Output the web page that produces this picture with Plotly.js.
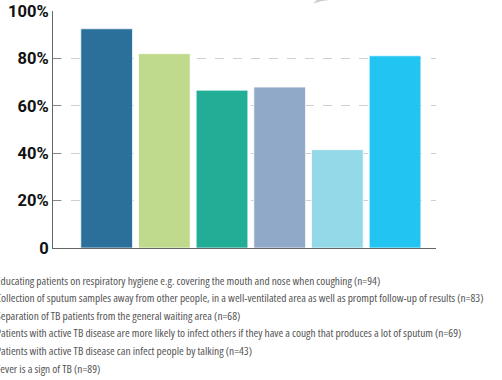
<!DOCTYPE html>
<html><head><meta charset="utf-8">
<script src="https://cdn.plot.ly/plotly-3.0.1.min.js"></script>
<style>html,body{margin:0;padding:0;background:#fff}#chart{width:502px;height:380px}
.annotation-text{font-stretch:condensed}</style>
</head><body><div id="chart"></div>
<script>
const categories = [
  "Educating patients on respiratory hygiene e.g. covering the mouth and nose when coughing (n=94)",
  "Collection of sputum samples away from other people, in a well-ventilated area as well as prompt follow-up of results (n=83)",
  "Separation of TB patients from the general waiting area (n=68)",
  "Patients with active TB disease are more likely to infect others if they have a cough that produces a lot of sputum (n=69)",
  "Patients with active TB disease can infect people by talking (n=43)",
  "Fever is a sign of TB (n=89)"
];
const values = [92.5, 82.0, 66.6, 67.9, 41.5, 81.1];
const colors = ["#2b6f9b", "#bfda8c", "#22ad97", "#91a9c8", "#93d9e8", "#22c5f2"];
const tickVals = [0, 20, 40, 60, 80, 100];
const tickText = ["0", "20%", "40%", "60%", "80%", "100%"];

const traces = categories.map((name, i) => ({
  type: "bar",
  x: [i],
  y: [values[i]],
  name: name,
  width: 0.896,
  marker: {color: colors[i], line: {color: "rgba(255,255,255,0.7)", width: 1}},
  hoverinfo: "y+name"
}));

// legend-like key below the chart (text starts slightly beyond the left edge, as in the reference)
const L = 53, W = 383, T = 11, H = 237;
const keyY0 = 280, keyStep = 17.6, keyX = -6;
const annotations = categories.map((name, i) => ({
  xref: "paper", yref: "paper",
  x: (keyX - L) / W, y: (T + H - (keyY0 + i * keyStep)) / H,
  xanchor: "left", yanchor: "middle", showarrow: false,
  text: name,
  font: {family: "Open Sans, sans-serif", size: 11.4, color: "#555"}
}));

const px = v => (v - L) / W, py = v => (T + H - v) / H;
const shapes = [{
  type: "path", xref: "paper", yref: "paper",
  path: `M ${px(313)} ${py(3.5)} L ${px(322)} ${py(1)} L ${px(336)} ${py(-1)} L ${px(318)} ${py(-1)} Z`,
  fillcolor: "rgba(140,140,140,0.45)", line: {width: 0}
}];

const layout = {
  width: 502, height: 380,
  margin: {l: L, r: 502 - L - W, t: T, b: 380 - T - H, autoexpand: false},
  paper_bgcolor: "#fff", plot_bgcolor: "#fff",
  barmode: "overlay",
  showlegend: false,
  annotations: annotations,
  shapes: shapes,
  xaxis: {
    range: [-0.93, 5.71], showticklabels: false, showgrid: false, zeroline: false,
    showline: true, linecolor: "#666", linewidth: 1, ticks: ""
  },
  yaxis: {
    range: [0, 100], tickvals: tickVals, ticktext: tickText,
    showline: true, linecolor: "#666", linewidth: 1,
    ticks: "inside", ticklen: 8, tickcolor: "#888",
    showgrid: true, gridcolor: "#d0d0d0", griddash: "dash", gridwidth: 1,
    zeroline: false,
    tickfont: {family: "Roboto, Open Sans, sans-serif", size: 16.5, color: "#111", weight: "bold"}
  }
};

Plotly.newPlot("chart", traces, layout, {displayModeBar: false, staticPlot: true});
</script>
</body></html>
